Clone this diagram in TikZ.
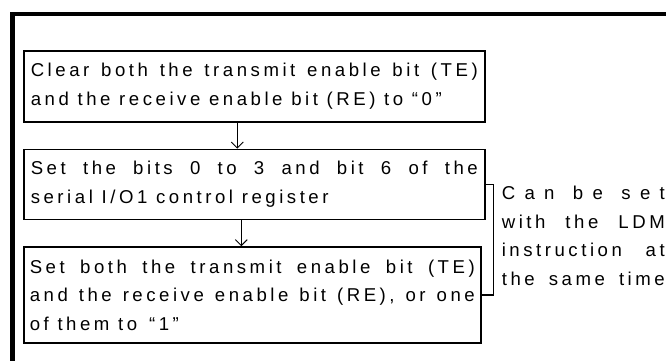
\documentclass[tikz,border=0pt]{standalone}
\usepackage{fontspec}
\setmainfont{Liberation Sans}[LetterSpace=19]
\usetikzlibrary{arrows.meta,positioning,calc}

\begin{document}
\begin{tikzpicture}[x=1pt, y=1pt, every node/.style={font=\fontsize{18.6}{28.5}\selectfont},
	stepbox/.style={draw, line width=1.6pt, anchor=north west, inner xsep=7pt, inner ysep=0pt,
		text width=447pt, align=justify},
	flow/.style={line width=0.9pt, -{Straight Barb[length=6pt, width=12pt]}}]
	\useasboundingbox (0,0) rectangle (666,-360);
	% outer frame, cut by the page on the right and below
	\draw[line width=4.5pt] (12.5,-362) -- (12.5,-14) -- (668,-14);
	\node[stepbox, minimum height=71pt] (clear) at (23,-50)
		{Clear both the transmit enable bit (TE)\linebreak and the receive enable bit (RE) to “0”};
	\node[stepbox, minimum height=70pt, below=26pt of clear.south west, anchor=north west] (setbits)
		{Set the bits 0 to 3 and bit 6 of the\linebreak serial I/O1 control register};
	\node[stepbox, minimum height=96pt, inner xsep=6pt, text width=445pt, below=26pt of setbits.south west, anchor=north west] (setbits2)
		{Set both the transmit enable bit (TE)\linebreak and the receive enable bit (RE), or one\linebreak of them to \,“1”};
	\draw[flow] ([xshift=-17pt]clear.south) -- ([xshift=-17pt]clear.south |- setbits.north);
	\draw[flow] ([xshift=-13pt]setbits.south) -- ([xshift=-13pt]setbits.south |- setbits2.north);
	% bracket joining the two register steps
	\draw[line width=1.6pt] (setbits.east) -- ++(8,0) coordinate (brk) |- (setbits2.east);
	\coordinate (brkmid) at ($(brk)!0.5!(brk |- setbits2.east)$);
	\node[anchor=west, inner sep=0pt, text width=163pt, align=left] (ldm) at ([xshift=8pt, yshift=4pt]brkmid)
		{\makebox[163pt][s]{C\hfill a\hfill n\hfill\hfill b\hfill e\hfill\hfill s\hfill e\hfill t}\\
		\makebox[163pt][s]{with\hfill the\hfill LDM}\\
		\makebox[163pt][s]{instruction\hfill at}\\
		\makebox[163pt][s]{the\hfill same\hfill time}};
\end{tikzpicture}
\end{document}
